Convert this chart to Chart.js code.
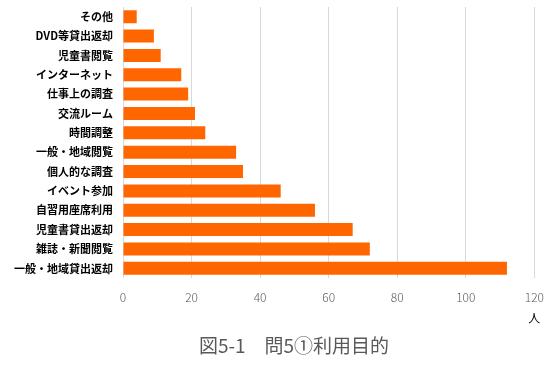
<!DOCTYPE html>
<html>
<head>
<meta charset="utf-8">
<script src="https://cdn.jsdelivr.net/npm/chart.js@4"></script>
<style>
  html, body { margin: 0; padding: 0; background: #fff; }
  #wrap { position: relative; width: 556px; height: 365px; }
</style>
</head>
<body>
<div id="wrap"><canvas id="chart" width="556" height="365"></canvas></div>
<script>
const categories = [
  "その他",
  "DVD等貸出返却",
  "児童書閲覧",
  "インターネット",
  "仕事上の調査",
  "交流ルーム",
  "時間調整",
  "一般・地域閲覧",
  "個人的な調査",
  "イベント参加",
  "自習用座席利用",
  "児童書貸出返却",
  "雑誌・新聞閲覧",
  "一般・地域貸出返却",
];
const counts = [4, 9, 11, 17, 19, 21, 24, 33, 35, 46, 56, 67, 72, 112];
const xTicks = [0, 20, 40, 60, 80, 100, 120];
const unitLabel = "人";
const figTitle = "図5-1\u3000問5①利用目的";

const JP = '"Noto Sans CJK JP", "Noto Sans", sans-serif';

// 単位「人」と図タイトルを描く
const captions = {
  id: "captions",
  afterDraw(chart) {
    const ctx = chart.ctx;
    const x = chart.scales.x;
    ctx.save();
    ctx.fillStyle = "#000";
    ctx.font = "12px " + JP;
    ctx.textAlign = "center";
    ctx.textBaseline = "middle";
    ctx.fillText(unitLabel, x.getPixelForValue(120), 318);
    ctx.fillStyle = "#595959";
    ctx.font = "19px " + JP;
    ctx.fillText(figTitle, 294, 346);
    ctx.restore();
  },
};

new Chart(document.getElementById("chart"), {
  type: "bar",
  data: {
    labels: categories,
    datasets: [
      {
        data: counts,
        backgroundColor: "#ff6600",
        categoryPercentage: 1,
        barPercentage: 0.67,
      },
    ],
  },
  options: {
    indexAxis: "y",
    responsive: false,
    animation: false,
    devicePixelRatio: 1,
    layout: { padding: { top: 0, right: 21, left: 0, bottom: 0 } },
    plugins: {
      legend: { display: false },
      tooltip: { enabled: false },
    },
    scales: {
      x: {
        min: 0,
        max: 120,
        afterBuildTicks: (s) => { s.ticks = xTicks.map((v) => ({ value: v })); },
        afterFit: (s) => { s.height = 87; },
        grid: { color: "#d9d9d9", lineWidth: 1, drawTicks: false },
        border: { display: false },
        ticks: {
          padding: 12,
          color: "#595959",
          font: { family: JP, size: 12, weight: "300" },
        },
      },
      y: {
        afterFit: (s) => { s.width = 123; s.paddingTop = 7; s.paddingBottom = 0; },
        grid: { display: false, drawTicks: false },
        border: { display: false },
        ticks: {
          padding: 10,
          color: "#000",
          font: { family: JP, size: 11, weight: "bold" },
        },
      },
    },
  },
  plugins: [captions],
});
</script>
</body>
</html>
